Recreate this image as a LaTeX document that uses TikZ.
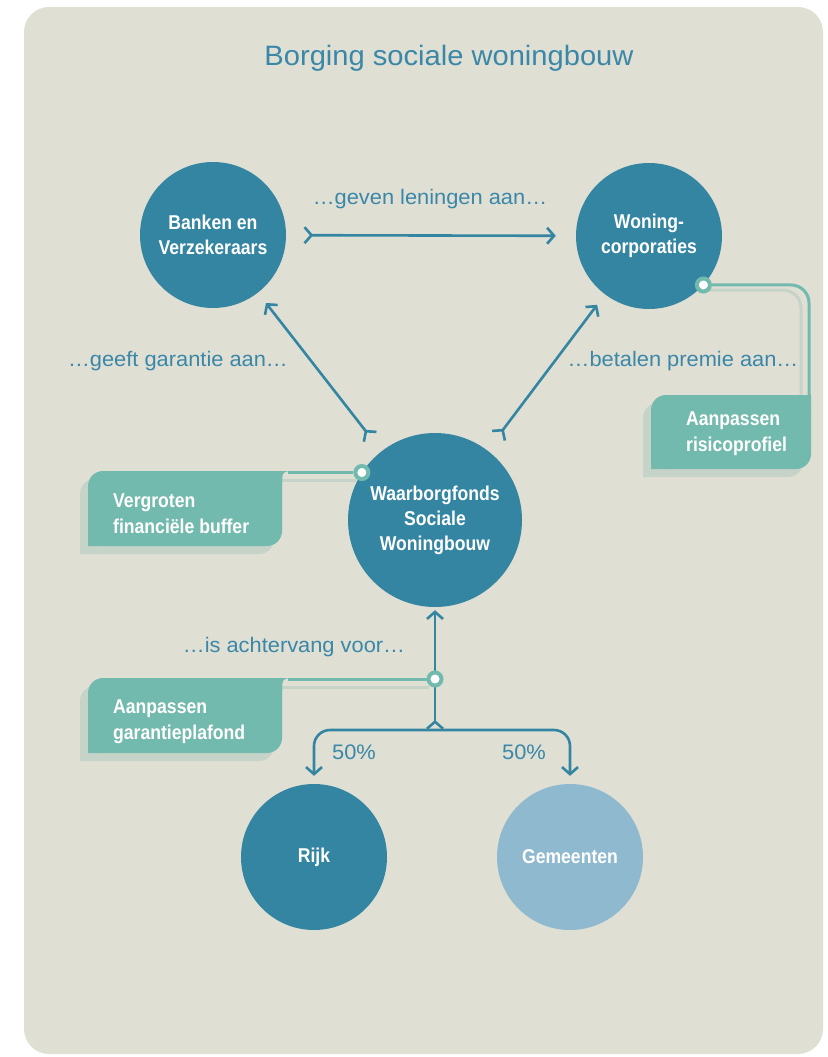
\documentclass[tikz,border=0pt]{standalone}
\usepackage{fontspec}
\setmainfont{Liberation Sans}
\newfontfamily\labelfont[FakeStretch=1.04]{Liberation Sans}
\newfontfamily\condfont[FakeStretch=0.88]{Liberation Sans}
\usepackage{tikz}
\usepackage{xcolor}
\usetikzlibrary{arrows.meta}
\definecolor{panelbg}{HTML}{DFDFD4}
\definecolor{deepteal}{HTML}{3485A2}
\definecolor{paleblue}{HTML}{8FB9CF}
\definecolor{linkblue}{HTML}{3A87A8}
\definecolor{mint}{HTML}{73BAAE}
\definecolor{mintshade}{HTML}{C6D3C8}
\tikzset{
    big-circle/.style = {circle, fill=deepteal, text=white, inner sep=0pt, minimum size=146pt, align=center, font=\condfont\bfseries\fontsize{20}{25}\selectfont},
    title-text/.style = {text=linkblue, anchor=base, font=\labelfont\fontsize{28}{32}\selectfont},
    link-text/.style = {text=linkblue, anchor=base, font=\labelfont\fontsize{21}{24}\selectfont},
    callout-text/.style = {text=white, anchor=west, align=left, inner sep=0pt, font=\condfont\bfseries\fontsize{20}{26}\selectfont},
    callout-line/.style = {draw=mint, line width=3pt},
    pin-dot/.style = {circle, fill=white, draw=mint, line width=4pt, minimum size=13pt, inner sep=0pt},
    flow/.style = {draw=deepteal, line width=2.6pt, arrows={Straight Barb[reversed,length=7pt,width=16pt]-Straight Barb[length=7pt,width=16pt]}},
    fork/.style = {draw=deepteal, line width=2.6pt, rounded corners=16pt, arrows={Straight Barb[length=7pt,width=16pt]-Straight Barb[length=7pt,width=16pt]}},
}

\begin{document}
\begin{tikzpicture}[x=1pt, y=-1pt]
\useasboundingbox (0,0) rectangle (827,1057);
\fill[panelbg, rounded corners=25pt] (24,7) rectangle (823,1054);

\node[title-text] (title) at (449,66) {Borging sociale woningbouw};

% shadows of the callouts
\begin{scope}[shift={(-8,8)}, color=mintshade]
\fill[rounded corners=15pt] (651,395) rectangle (811,469);
\fill (651,454) rectangle (666,469) (796,395) rectangle (811,410);
\draw[line width=3pt, rounded corners=18pt] (713,282) -| (809,400);
\fill[rounded corners=15pt] (88,471) rectangle (282,546);
\fill (88,531) rectangle (103,546) (267,471) rectangle (282,486);
\fill (282,486) .. controls (282,471) .. (297,471) -- (282,471) -- cycle;
\draw[line width=3pt] (290,472.5) -- (364,472.5);
\fill[rounded corners=15pt] (88,678) rectangle (282,753);
\fill (88,738) rectangle (103,753) (267,678) rectangle (282,693);
\fill (282,693) .. controls (282,678) .. (297,678) -- (282,678) -- cycle;
\draw[line width=3pt] (290,679.5) -- (437,679.5);
\end{scope}

% callout boxes
\begin{scope}[color=mint]
\fill[rounded corners=15pt] (651,395) rectangle (811,469);
\fill (651,454) rectangle (666,469) (796,395) rectangle (811,410);
\fill[rounded corners=15pt] (88,471) rectangle (282,546);
\fill (88,531) rectangle (103,546) (267,471) rectangle (282,486);
\fill (282,486) .. controls (282,471) .. (297,471) -- (282,471) -- cycle;
\fill[rounded corners=15pt] (88,678) rectangle (282,753);
\fill (88,738) rectangle (103,753) (267,678) rectangle (282,693);
\fill (282,693) .. controls (282,678) .. (297,678) -- (282,678) -- cycle;
\end{scope}
\coordinate (risico-tab) at (809,400);
\coordinate (buffer-tab) at (288,472);
\coordinate (plafond-tab) at (288,679);

% circles
\node[big-circle] (banken) at (213,235) {Banken en\\Verzekeraars};
\node[big-circle] (woning) at (649,236) {Woning-\\corporaties};
\node[big-circle, minimum size=174pt] (fonds) at (435,520) {Waarborgfonds\\Sociale\\Woningbouw};
\node[big-circle] (rijk) at (314,857) {Rijk};
\node[big-circle, fill=paleblue] (gemeenten) at (570,857) {Gemeenten};

% flows
\coordinate (split) at (435,730);
\draw[flow, shorten <=17pt, shorten >=20pt] (banken) -- (woning);
\draw[flow, shorten <=17pt, shorten >=13pt] (fonds) -- (banken);
\draw[flow, shorten <=17pt, shorten >=13pt] (fonds) -- (woning);
\draw[flow, shorten >=3pt] (split) -- (fonds);
\draw[fork, shorten <=8pt, shorten >=8pt] (rijk) |- (split) -| (gemeenten);

% callout pins
\node[pin-dot] (dot-risico) at (woning.-42) {};
\node[pin-dot] (dot-buffer) at (fonds.147) {};
\node[pin-dot] (dot-plafond) at (435,679) {};
\draw[callout-line, rounded corners=18pt] (dot-risico) -| (risico-tab);
\draw[callout-line] (dot-buffer) -- (dot-buffer -| buffer-tab);
\draw[callout-line] (dot-plafond) -- (dot-plafond -| plafond-tab);

\node[callout-text] (txt-risico) at (686,434) {Aanpassen\\risicoprofiel};
\node[callout-text] (txt-buffer) at (113,514) {Vergroten\\financiële buffer};
\node[callout-text] (txt-plafond) at (113,722) {Aanpassen\\garantieplafond};

% link labels
\node[link-text] (lbl-leningen) at (430,204) {…geven leningen aan…};
\node[link-text] (lbl-garantie) at (178,366) {…geeft garantie aan…};
\node[link-text] (lbl-premie) at (683,366) {…betalen premie aan…};
\node[link-text] (lbl-achtervang) at (294,652) {…is achtervang voor…};
\node[link-text] (lbl-rijk) at (354,759) {50\%};
\node[link-text] (lbl-gemeenten) at (524,759) {50\%};
\end{tikzpicture}
\end{document}
